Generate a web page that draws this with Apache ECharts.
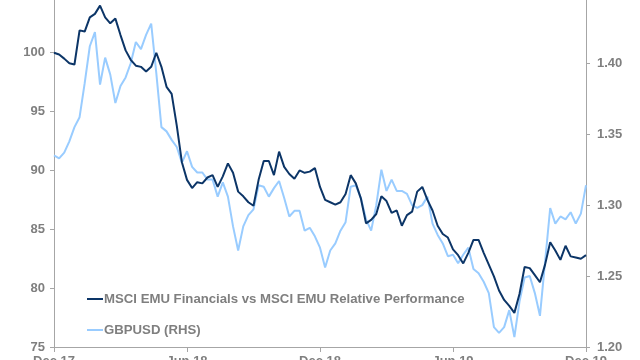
<!DOCTYPE html>
<html>
<head>
<meta charset="utf-8">
<script src="https://cdn.jsdelivr.net/npm/echarts@6/dist/echarts.min.js"></script>
<style>
html,body{margin:0;padding:0;background:#fff;}
#chart{width:640px;height:360px;}
</style>
</head>
<body>
<div id="chart"></div>
<script>
// Tick labels on the date axis (every 26 weeks)
const tickLabels = ['Dec 17', 'Jun 18', 'Dec 18', 'Jun 19', 'Dec 19'];

// Weekly observations, Dec 2017 - Dec 2019
const seriesNames = ['MSCI EMU Financials vs MSCI EMU Relative Performance', 'GBPUSD (RHS)'];

const msciRelative = [
  100.0, 99.85, 99.5, 99.1, 99.0, 101.9, 101.8, 103.0, 103.3, 104.0,
  103.0, 102.5, 102.9, 101.5, 100.2, 99.4, 98.9, 98.8, 98.4, 98.8,
  100.0, 98.8, 97.1, 96.5, 93.8, 90.7, 89.2, 88.5, 89.0, 88.9,
  89.4, 89.6, 88.6, 89.5, 90.6, 89.8, 88.2, 87.8, 87.3, 87.0,
  89.2, 90.8, 90.8, 89.6, 91.6, 90.3, 89.7, 89.3, 90.0, 89.8,
  89.9, 90.2, 88.6, 87.5, 87.3, 87.1, 87.3, 88.0, 89.6, 88.9,
  87.6, 85.5, 85.8, 86.3, 87.8, 87.4, 86.4, 86.6, 85.3, 86.2,
  86.5, 88.2, 88.6, 87.5, 86.6, 85.3, 84.6, 84.3, 83.3, 82.8,
  82.1, 83.0, 84.1, 84.1, 83.0, 82.0, 81.0, 79.8, 79.0, 78.5,
  77.9, 79.5, 81.8, 81.7, 81.1, 80.5, 82.0, 83.9, 83.2, 82.4,
  83.6, 82.7, 82.6, 82.5, 82.8
];

const gbpusd = [
  1.335, 1.333, 1.337, 1.345, 1.355, 1.362, 1.386, 1.412, 1.422, 1.385,
  1.404, 1.392, 1.372, 1.384, 1.390, 1.400, 1.415, 1.410, 1.420, 1.428,
  1.393, 1.355, 1.352, 1.346, 1.341, 1.330, 1.338, 1.327, 1.323, 1.323,
  1.318, 1.318, 1.306, 1.316, 1.306, 1.285, 1.268, 1.285, 1.293, 1.297,
  1.314, 1.313, 1.306, 1.312, 1.317, 1.305, 1.292, 1.296, 1.296, 1.282,
  1.284, 1.278, 1.270, 1.256, 1.268, 1.273, 1.282, 1.288, 1.313, 1.314,
  1.305, 1.290, 1.282, 1.300, 1.325, 1.310, 1.318, 1.310, 1.310, 1.308,
  1.300, 1.298, 1.300, 1.306, 1.287, 1.279, 1.273, 1.264, 1.265, 1.259,
  1.265, 1.270, 1.255, 1.252, 1.246, 1.238, 1.214, 1.210, 1.214, 1.226,
  1.207, 1.232, 1.249, 1.250, 1.238, 1.222, 1.260, 1.298, 1.287, 1.292,
  1.290, 1.295, 1.287, 1.294, 1.314
];

// Axis ranges (the original chart is cropped at the top)
const leftMin = 75, leftMax = 104.48, leftStep = 5;
const rightMin = 1.20, rightMax = 1.4446, rightStep = 0.05;

// weekly date categories
const categories = [];
(function () {
  const start = new Date(Date.UTC(2017, 11, 29));
  for (let i = 0; i < msciRelative.length; i++) {
    const d = new Date(start.getTime() + i * 7 * 86400000);
    categories.push(d.toISOString().slice(0, 10));
  }
})();

const gray = '#7f7f7f';
const axisColor = '#a6a6a6';
const labelFont = { color: gray, fontSize: 13, fontWeight: 'bold', fontFamily: 'Liberation Sans, Arial, sans-serif' };

const chart = echarts.init(document.getElementById('chart'), null, { renderer: 'canvas' });
chart.setOption({
  animation: false,
  backgroundColor: '#ffffff',
  grid: { left: 54, right: 54, top: 0, bottom: 13, containLabel: false, outerBoundsMode: 'none' },
  legend: {
    orient: 'vertical',
    left: 82,
    top: 287,
    itemGap: 17,
    itemWidth: 16,
    itemHeight: 2,
    icon: 'rect',
    data: [seriesNames[0], seriesNames[1]],
    textStyle: Object.assign({}, labelFont, { fontSize: 13.2, lineHeight: 14, padding: [0, 0, 0, -4] })
  },
  xAxis: {
    type: 'category',
    data: categories,
    boundaryGap: false,
    axisLine: { show: true, lineStyle: { color: axisColor, width: 1 } },
    axisTick: { show: true, length: 5, lineStyle: { color: axisColor }, interval: function (i) { return i % 26 === 0; } },
    axisLabel: {
      interval: function (i) { return i % 26 === 0; },
      formatter: function (v, i) { return tickLabels[Math.round(i / 26)] || ''; },
      margin: 8,
      hideOverlap: false,
      ...labelFont
    },
    splitLine: { show: false }
  },
  yAxis: [
    {
      type: 'value', position: 'left', min: leftMin, max: leftMax, interval: leftStep,
      axisLine: { show: true, lineStyle: { color: axisColor } },
      axisTick: { show: true, length: 4, lineStyle: { color: axisColor } },
      axisLabel: { margin: 9, showMaxLabel: false, formatter: function (v) { return v > 101 ? '' : String(v); }, ...labelFont },
      splitLine: { show: false }
    },
    {
      type: 'value', position: 'right', min: rightMin, max: rightMax, interval: rightStep,
      axisLine: { show: true, lineStyle: { color: axisColor } },
      axisTick: { show: true, length: 4, lineStyle: { color: axisColor } },
      axisLabel: { margin: 11, showMaxLabel: false, formatter: function (v) { return v > 1.41 ? '' : v.toFixed(2); }, ...labelFont },
      splitLine: { show: false }
    }
  ],
  series: [
    {
      name: seriesNames[1], type: 'line', yAxisIndex: 1, data: gbpusd,
      showSymbol: false, symbol: 'none', smooth: false,
      lineStyle: { color: '#99ccff', width: 2 }, itemStyle: { color: '#99ccff' }
    },
    {
      name: seriesNames[0], type: 'line', yAxisIndex: 0, data: msciRelative,
      showSymbol: false, symbol: 'none', smooth: false,
      lineStyle: { color: '#0c3567', width: 2 }, itemStyle: { color: '#0c3567' }
    }
  ]
});
</script>
</body>
</html>
